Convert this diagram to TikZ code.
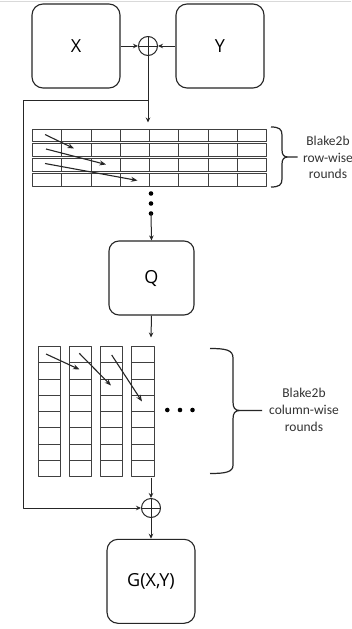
\documentclass[tikz,border=0pt]{standalone}
\usepackage{fontspec}
\setmainfont{Open Sans}
\newfontfamily\labelfont{Carlito}
\usetikzlibrary{arrows.meta}
\begin{document}
\begin{tikzpicture}[x=1pt,y=-1pt,
  line join=round,
  blk/.style={draw=black!85, line width=1.1pt, rounded corners=11pt,
    minimum width=88pt, minimum height=84pt, inner sep=0pt,
    font=\fontsize{18}{20}\selectfont},
  xor/.style={draw=black!85, line width=1pt, circle, minimum size=19pt, inner sep=0pt,
    path picture={\draw[line width=1pt,black!85]
      (path picture bounding box.north) -- (path picture bounding box.south)
      (path picture bounding box.west) -- (path picture bounding box.east);}},
  arr/.style={line width=1pt, draw=black!85, -{Stealth[length=5pt,width=4.5pt]}},
  garr/.style={line width=1.1pt, draw=black!85, -{Stealth[length=6.5pt,width=5pt]}},
  cell/.style={draw=black!75, line width=1pt},
  brace/.style={draw=black!85, line width=1.2pt},
  dot/.style={circle, fill=black, inner sep=0pt, minimum size=4.6pt},
  lbl/.style={align=center, font=\labelfont\fontsize{13.5}{16.8}\selectfont, text=black!80}
]
\useasboundingbox (0,0) rectangle (351,629);
\fill[white] (0,0) rectangle (351,629);
\draw[black!15, line width=0.8pt] (0,1) -- (351,1);

% inputs and first XOR
\node[blk] (X) at (76,46) {X};
\node[blk] (Y) at (220,46) {Y};
\node[xor] (x1) at (148,46) {};
\draw[arr] (X.east) -- (x1.west);
\draw[arr] (Y.west) -- (x1.east);

% row-wise state: four separate rows of eight cells
\foreach \r in {0,...,3}{
  \pgfmathsetmacro{\ya}{129+\r*14.75}
  \pgfmathsetmacro{\yb}{\ya+12.75}
  \draw[cell] (32.5,\ya) rectangle (266.5,\yb);
  \foreach \k in {1,...,7}{
    \draw[cell] ({32.5+\k*29.25},\ya) -- ({32.5+\k*29.25},\yb);
  }
}
\draw[garr] (45,134.5) -- (74,148.5);
\draw[garr] (46,149) -- (106,164.5);
\draw[garr] (45,163.5) -- (137.5,180.5);

\coordinate (rtop) at (148,122.5);
\coordinate (fb) at (148,100);
\coordinate (fbA) at (23,100);
\coordinate (fbB) at (23,508);
\draw[arr] (x1.south) -- (rtop);

% brace and label for the row-wise rounds
\draw[brace] (271,127) .. controls (279,127) and (282,129) .. (282,135) -- (282,150)
  .. controls (282,155) and (284,157) .. (288,157) -- (297.5,157)
  (288,157) .. controls (284,157) and (282,159) .. (282,164) -- (282,179)
  .. controls (282,185) and (279,187) .. (271,187);
\node[lbl] (rowlbl) at (328,157.5) {Blake2b\\row-wise\\rounds};

% vertical dots
\node[dot] (d1) at (151,193.5) {};
\node[dot] (d2) at (151,203.5) {};
\node[dot] (d3) at (151,213.5) {};

% permutation Q
\node[blk, minimum width=85pt, minimum height=74pt, rounded corners=10pt] (Q) at (151.5,278) {Q};
\draw[arr] (d3.center) -- (Q.north);
\coordinate (ctop) at (151,337.5);
\draw[arr] (Q.south) -- (ctop);

% column-wise state: four separate columns of eight cells
\foreach \c in {0,...,3}{
  \pgfmathsetmacro{\xa}{38.5+\c*31.1}
  \pgfmathsetmacro{\xb}{\xa+22.2}
  \draw[cell] (\xa,346.7) rectangle (\xb,476.7);
  \foreach \k in {1,...,7}{
    \draw[cell] (\xa,{346.7+\k*16.25}) -- (\xb,{346.7+\k*16.25});
  }
}
\draw[garr] (46,354) -- (79.5,369.5);
\draw[garr] (79.3,353.3) -- (111,385.5);
\draw[garr] (111.7,355) -- (142,401.5);

% horizontal dots
\node[dot] (h1) at (167.3,410) {};
\node[dot] (h2) at (180,410) {};
\node[dot] (h3) at (192.5,410) {};

% brace and label for the column-wise rounds
\draw[brace] (210,348.5) .. controls (226,348.5) and (233,350) .. (233,358) -- (233,402)
  .. controls (233,408) and (235,410.5) .. (240,410.5) -- (262,410.5)
  (240,410.5) .. controls (235,410.5) and (233,413) .. (233,419) -- (233,465)
  .. controls (233,472) and (226,473.5) .. (210,473.5);
\node[lbl] (collbl) at (304,410) {Blake2b\\column-wise\\rounds};

% final XOR with the feed-forward input
\coordinate (cbot) at (151,477.5);
\node[xor] (x2) at (151,508) {};
\draw[arr] (cbot) -- (x2.north);
\draw[arr] (fb) -- (fbA) -- (fbB) -- (x2.west);

% output
\node[blk] (G) at (151,581.3) {G(X,Y)};
\draw[arr] (x2.south) -- (G.north);
\end{tikzpicture}
\end{document}
